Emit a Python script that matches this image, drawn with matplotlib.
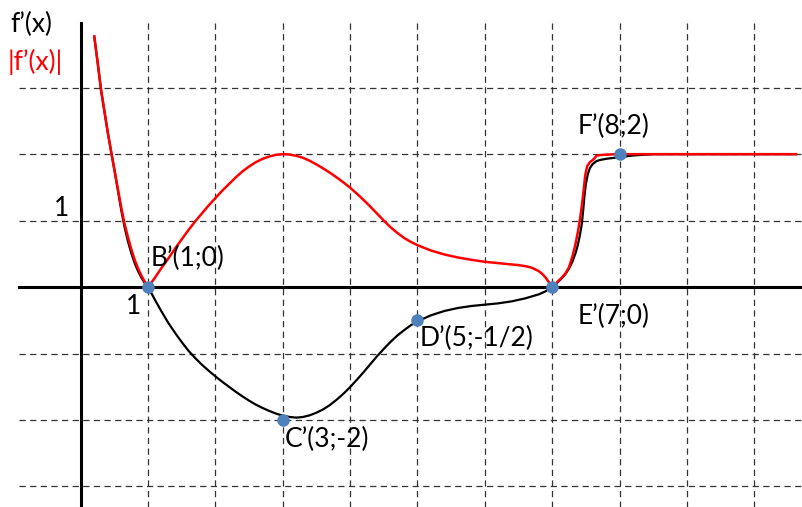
import matplotlib.pyplot as plt

# f'(x) curve (black)
fx = [0.2, 0.25, 0.3, 0.35, 0.4, 0.45, 0.5, 0.55, 0.6, 0.65, 0.7, 0.75, 0.8, 0.85, 0.9, 0.95, 1.0,
      1.1, 1.2, 1.3, 1.4, 1.5, 1.6, 1.7, 1.8, 1.9, 2.0, 2.1, 2.2, 2.3, 2.4, 2.5, 2.6, 2.7, 2.8, 2.9,
      3.0, 3.1, 3.2, 3.3, 3.4, 3.5, 3.6, 3.7, 3.8, 3.9, 4.0, 4.1, 4.2, 4.3, 4.4, 4.5, 4.6, 4.7, 4.8,
      4.9, 5.0, 5.2, 5.4, 5.6, 5.8, 6.0, 6.2, 6.4, 6.6, 6.8, 6.9, 7.0,
      7.05, 7.1, 7.15, 7.2, 7.25, 7.3, 7.35, 7.38, 7.41, 7.44, 7.46, 7.48, 7.5, 7.53, 7.56, 7.6,
      7.65, 7.7, 7.8, 7.96, 8.2, 8.5, 10.62]
fy = [3.77, 3.38, 2.97, 2.65, 2.33, 2.04, 1.76, 1.46, 1.16, 0.9, 0.69, 0.51, 0.36, 0.24, 0.14, 0.06, 0.0,
      -0.19, -0.37, -0.54, -0.69, -0.83, -0.96, -1.07, -1.17, -1.26, -1.345, -1.425, -1.5, -1.575, -1.645, -1.71, -1.77, -1.82, -1.865, -1.905,
      -1.935, -1.955, -1.965, -1.955, -1.93, -1.89, -1.84, -1.775, -1.695, -1.605, -1.505, -1.395, -1.28, -1.16, -1.04, -0.93, -0.825, -0.73, -0.65,
      -0.575, -0.515, -0.425, -0.36, -0.315, -0.285, -0.265, -0.245, -0.215, -0.17, -0.11, -0.065, 0.0,
      0.04, 0.09, 0.14, 0.2, 0.28, 0.38, 0.52, 0.63, 0.77, 0.95, 1.15, 1.38, 1.55, 1.7, 1.79, 1.85,
      1.89, 1.91, 1.93, 1.95, 1.98, 2.0, 2.0]

# |f'(x)| curve (red)
gx = [0.2, 0.25, 0.3, 0.35, 0.4, 0.45, 0.5, 0.55, 0.6, 0.65, 0.7, 0.75, 0.8, 0.85, 0.9, 0.95, 1.0,
      1.1, 1.2, 1.3, 1.4, 1.5, 1.6, 1.7, 1.8, 1.9, 2.0, 2.1, 2.2, 2.3, 2.4, 2.5, 2.6, 2.7, 2.8, 2.9,
      3.0, 3.1, 3.2, 3.3, 3.4, 3.5, 3.6, 3.7, 3.8, 3.9, 4.0, 4.1, 4.2, 4.3, 4.4, 4.5, 4.6, 4.7, 4.8,
      4.9, 5.0, 5.2, 5.4, 5.6, 5.8, 6.0, 6.2, 6.4, 6.5, 6.6, 6.7, 6.8, 6.85, 6.9, 6.95, 7.0,
      7.05, 7.1, 7.15, 7.2, 7.25, 7.3, 7.34, 7.38, 7.41, 7.44, 7.47, 7.49, 7.52, 7.56, 7.6, 7.63,
      7.66, 7.75, 7.96, 10.62]
gy = [3.77, 3.38, 2.97, 2.65, 2.33, 2.04, 1.76, 1.48, 1.2, 0.95, 0.75, 0.57, 0.41, 0.28, 0.17, 0.08, 0.0,
      0.14, 0.29, 0.43, 0.58, 0.72, 0.86, 0.99, 1.11, 1.23, 1.34, 1.45, 1.55, 1.65, 1.74, 1.815, 1.88, 1.93, 1.965, 1.99,
      2.0, 1.995, 1.975, 1.945, 1.9, 1.845, 1.785, 1.72, 1.65, 1.575, 1.495, 1.405, 1.31, 1.21, 1.105, 1.0, 0.9, 0.815, 0.74,
      0.68, 0.63, 0.55, 0.49, 0.445, 0.41, 0.38, 0.36, 0.34, 0.33, 0.315, 0.29, 0.24, 0.2, 0.145, 0.075, 0.0,
      0.05, 0.1, 0.15, 0.21, 0.3, 0.46, 0.62, 0.82, 1.0, 1.22, 1.48, 1.68, 1.82, 1.88, 1.91, 1.94,
      1.98, 1.99, 2.0, 2.0]

# named points
pt_x = [1, 3, 5, 7, 8]
pt_y = [0, -2, -0.5, 0, 2]
pt_labels = ["B’(1;0)", "C’(3;-2)", "D’(5;-1/2)", "E’(7;0)", "F’(8;2)"]
pt_label_pos = [(1.04, 0.43), (3.03, -2.29), (5.03, -0.77), (7.38, -0.45), (7.38, 2.42)]

plt.rcParams['font.family'] = ['Lato', 'DejaVu Sans']

fig = plt.figure(figsize=(8.02, 5.07), dpi=100)
ax = fig.add_axes([0, 0, 1, 1])
ax.set_xlim(-1.2, 10.71)
ax.set_ylim(-3.31, 4.32)
ax.axis('off')

# dashed grid
for yy in [3, 2, 1, -1, -2, -3]:
    ax.plot([-0.92, 10.7], [yy, yy], color='#333333', lw=0.9, dashes=(5, 3.5))
for xx in range(1, 11):
    ax.plot([xx, xx], [3.98, -3.4], color='#333333', lw=0.9, dashes=(5, 3.5))

# axes
ax.plot([-0.92, 10.7], [0, 0], color='black', lw=2.2)
ax.plot([0, 0], [3.98, -3.4], color='black', lw=2.2)

ax.plot(fx, fy, color='black', lw=1.6, zorder=3)
ax.plot(gx, gy, color='red', lw=1.8, zorder=4)
ax.plot(pt_x, pt_y, 'o', color='#4f81bd', ms=8, zorder=5)

for lab, (lx, ly) in zip(pt_labels, pt_label_pos):
    ax.text(lx, ly, lab, fontsize=19, ha='left', va='center', zorder=6)

ax.text(-0.18, 1.0, "1", fontsize=19, ha='right', va='bottom')
ax.text(0.78, -0.3, "1", fontsize=19, ha='center', va='center')
fig.text(0.013, 0.951, "f’(x)", fontsize=19, ha='left', va='center')
fig.text(0.010, 0.877, "|f’(x)|", fontsize=19, ha='left', va='center', color='red')

fig.savefig("out.png", dpi=100)
